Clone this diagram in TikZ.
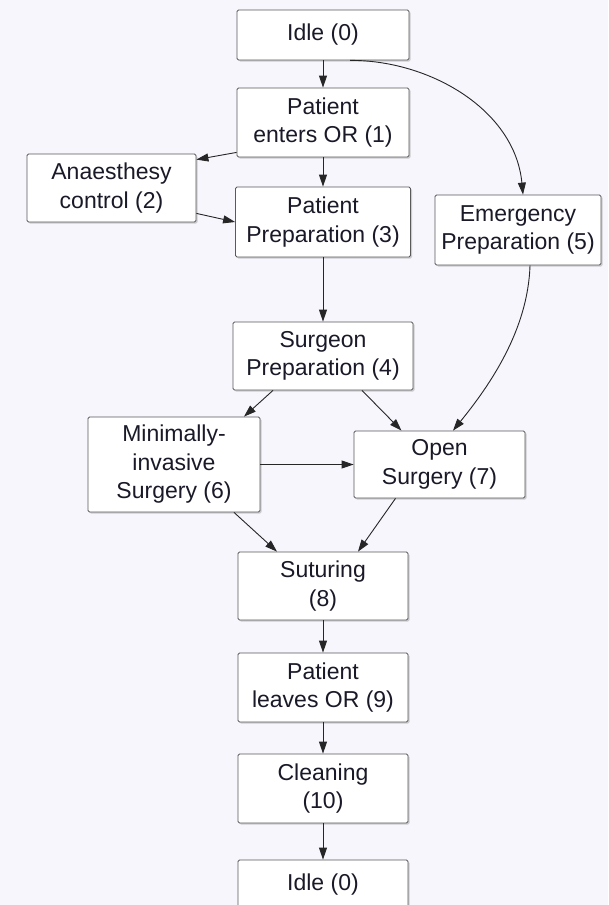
\documentclass[tikz,border=0pt]{standalone}
\usepackage{fontspec}
\setmainfont{Liberation Sans}
\usetikzlibrary{arrows.meta,shadows}
\definecolor{bgtint}{RGB}{246,246,252}
\definecolor{boxline}{RGB}{90,90,90}
\definecolor{txt}{RGB}{25,25,40}
\begin{document}
\begin{tikzpicture}[x=1pt,y=-1pt,
  state/.style={draw=boxline, line width=0.8pt, fill=white, rounded corners=1.5pt,
    inner sep=0pt, align=center, text=txt,
    font=\fontsize{23}{28.5}\selectfont,
    drop shadow={shadow xshift=1.5pt, shadow yshift=-1.5pt, opacity=0.35}},
  arr/.style={draw=black!85, line width=0.9pt, -{Triangle[length=12pt,width=8pt]}}]
\clip (0,0) rectangle (608,905);
\fill[bgtint] (0,0) rectangle (608,905);

\node[state, minimum width=172pt, minimum height=50pt] (n0) at (323,35) {Idle (0)};
\node[state, minimum width=172pt, minimum height=69pt] (n1) at (323,122.5) {Patient\\enters OR (1)};
\node[state, minimum width=169pt, minimum height=68pt] (n2) at (111.5,188) {Anaesthesy\\control (2)};
\node[state, minimum width=175pt, minimum height=70pt] (n3) at (323,222) {Patient\\Preparation (3)};
\node[state, minimum width=166pt, minimum height=70pt] (n5) at (518,230) {Emergency\\Preparation (5)};
\node[state, minimum width=180pt, minimum height=68pt] (n4) at (323,356) {Surgeon\\Preparation (4)};
\node[state, minimum width=172pt, minimum height=95pt] (n6) at (174,464.5) {Minimally-\\invasive\\Surgery (6)};
\node[state, minimum width=171pt, minimum height=67pt] (n7) at (439.5,464.5) {Open\\Surgery (7)};
\node[state, minimum width=170pt, minimum height=68pt] (n8) at (323,586) {Suturing\\(8)};
\node[state, minimum width=170pt, minimum height=69pt] (n9) at (323,687.5) {Patient\\leaves OR (9)};
\node[state, minimum width=170pt, minimum height=69pt] (n10) at (323,788.5) {Cleaning\\(10)};
\node[state, minimum width=170pt, minimum height=50pt] (n11) at (323,885) {Idle (0)};

\draw[arr] (n0.south) -- (n1.north);
\draw[arr] ([xshift=27pt]n0.south) .. controls (430,60) and (515,110) .. ([xshift=5pt]n5.north);
\draw[arr] ([yshift=5pt]n1.south west) -- ([yshift=-6pt]n2.north east);
\draw[arr] ([yshift=9pt]n2.south east) -- (n3.west);
\draw[arr] (n1.south) -- (n3.north);
\draw[arr] (n3.south) -- (n4.north);
\draw[arr] ([xshift=-50pt]n4.south) -- ([xshift=70pt]n6.north);
\draw[arr] ([xshift=39pt]n4.south) -- ([xshift=-38pt]n7.north);
\draw[arr] ([xshift=12pt]n5.south) .. controls (528,330) and (490,385) .. ([xshift=13.5pt]n7.north);
\draw[arr] (n6.east) -- (n6.east -| n7.west);
\draw[arr] ([xshift=60pt]n6.south) -- ([xshift=-46pt]n8.north);
\draw[arr] ([xshift=-44pt]n7.south) -- ([xshift=35pt]n8.north);
\draw[arr] (n8.south) -- (n9.north);
\draw[arr] (n9.south) -- (n10.north);
\draw[arr] (n10.south) -- (n11.north);
\end{tikzpicture}
\end{document}
